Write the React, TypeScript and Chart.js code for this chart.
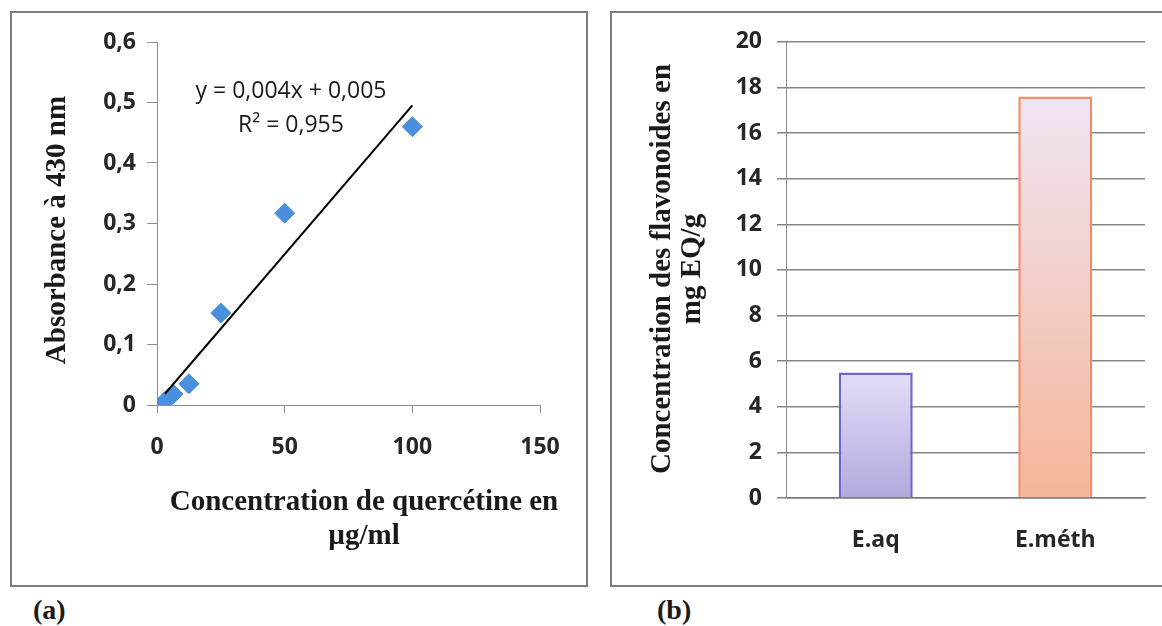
import React, { useEffect, useRef } from "react";
import { Chart, registerables } from "chart.js";

Chart.register(...registerables);

// ---- Data (a): calibration curve ----
const concentrations = [3.125, 6.25, 12.5, 25, 50, 100];
const absorbances = [0.006, 0.018, 0.035, 0.152, 0.317, 0.46];
const xTicksA = [0, 50, 100, 150];
const yTicksA = [0, 0.1, 0.2, 0.3, 0.4, 0.5, 0.6];
const equationText = ["y = 0,004x + 0,005", "R² = 0,955"];
const xTitleA = ["Concentration de quercétine en", "µg/ml"];
const yTitleA = "Absorbance à 430 nm";

// ---- Data (b): flavonoid content ----
const extractCategories = ["E.aq", "E.méth"];
const flavonoidValues = [5.5, 17.6];
const yTicksB = [0, 2, 4, 6, 8, 10, 12, 14, 16, 18, 20];
const yTitleB = ["Concentration des flavonoides en", "mg EQ/g"];

const barFills = [
  ["#e3ddf7", "#b1aadf"],
  ["#f0e5f3", "#f5b599"],
];
const barBorders = ["#6b65cc", "#f48a66"];

const axisGray = "#8f8f8f";
const tickColor = "#262626";
const tickFont = { family: "'Open Sans'", size: 23, weight: "bold" as const };
const serifTitle = "bold 29px 'Liberation Serif'";

type TextItem = { lines: string[]; x: number; y: number; font: string; rotate?: boolean; lh: number };

function textPlugin(id: string, items: TextItem[]) {
  return {
    id,
    afterDraw(chart: any) {
      const ctx = chart.ctx as CanvasRenderingContext2D;
      ctx.save();
      ctx.fillStyle = "#1a1a1a";
      ctx.textAlign = "center";
      ctx.textBaseline = "middle";
      for (const it of items) {
        ctx.save();
        ctx.font = it.font;
        ctx.translate(it.x, it.y);
        if (it.rotate) ctx.rotate(-Math.PI / 2);
        it.lines.forEach((l, i) => ctx.fillText(l, 0, i * it.lh));
        ctx.restore();
      }
      ctx.restore();
    },
  };
}

function regression(xs: number[], ys: number[]) {
  const n = xs.length;
  const mx = xs.reduce((a, b) => a + b, 0) / n;
  const my = ys.reduce((a, b) => a + b, 0) / n;
  let sxy = 0, sxx = 0;
  for (let i = 0; i < n; i++) {
    sxy += (xs[i] - mx) * (ys[i] - my);
    sxx += (xs[i] - mx) ** 2;
  }
  const slope = sxy / sxx;
  return { slope, intercept: my - slope * mx };
}

const fmtComma = (v: number) => (v === 0 ? "0" : v.toFixed(1).replace(".", ","));

export default function App() {
  const refA = useRef<HTMLCanvasElement>(null);
  const refB = useRef<HTMLCanvasElement>(null);

  useEffect(() => {
    const { slope, intercept } = regression(concentrations, absorbances);
    const xMin = Math.min(...concentrations);
    const xMax = Math.max(...concentrations);
    const trend = [
      { x: xMin, y: intercept + slope * xMin },
      { x: xMax, y: intercept + slope * xMax },
    ];

    const chartA = new Chart(refA.current!, {
      type: "scatter",
      data: {
        datasets: [
          {
            type: "line",
            data: trend,
            borderColor: "#000",
            borderWidth: 2,
            pointRadius: 0,
            order: 0,
          } as any,
          {
            data: concentrations.map((x, i) => ({ x, y: absorbances[i] })),
            pointStyle: "rectRot",
            pointRadius: 10,
            backgroundColor: "#4a8fdc",
            borderColor: "#4a8fdc",
            borderWidth: 1,
            order: 1,
          },
        ],
      },
      options: {
        responsive: false,
        animation: false,
        layout: { padding: { left: 0, top: 29, right: 46, bottom: 0 } },
        plugins: { legend: { display: false }, tooltip: { enabled: false } },
        scales: {
          x: {
            type: "linear",
            min: 0,
            max: 150,
            afterBuildTicks: (s: any) => {
              s.ticks = xTicksA.map((v) => ({ value: v }));
            },
            ticks: { font: tickFont, color: tickColor, padding: 21, maxRotation: 0 },
            grid: { drawOnChartArea: false, drawTicks: true, tickLength: 8, color: axisGray },
            border: { display: true, color: axisGray, width: 1 },
            afterFit: (s: any) => {
              s.height = 179;
            },
          },
          y: {
            type: "linear",
            min: 0,
            max: 0.6,
            afterBuildTicks: (s: any) => {
              s.ticks = yTicksA.map((v) => ({ value: v }));
            },
            ticks: {
              font: tickFont,
              color: tickColor,
              padding: 11,
              callback: (v: any) => fmtComma(Number(v)),
            },
            grid: { drawOnChartArea: false, drawTicks: true, tickLength: 10, color: axisGray },
            border: { display: true, color: axisGray, width: 1 },
            afterFit: (s: any) => {
              s.width = 145;
            },
          },
        },
      },
      plugins: [
        textPlugin("textsA", [
          { lines: [yTitleA], x: 45.5, y: 217, font: serifTitle, rotate: true, lh: 0 },
          { lines: xTitleA, x: 352, y: 490, font: serifTitle, lh: 34 },
          { lines: equationText, x: 279, y: 78, font: "500 23px 'Open Sans'", lh: 34 },
        ]),
      ],
    });

    const chartB = new Chart(refB.current!, {
      type: "bar",
      data: {
        labels: extractCategories,
        datasets: [
          {
            data: flavonoidValues,
            backgroundColor: (ctx: any) => {
              const chart = ctx.chart;
              const i = ctx.dataIndex;
              if (!chart.chartArea || i == null || !chart.scales.y) return barFills[0][0];
              const top = chart.scales.y.getPixelForValue(flavonoidValues[i]);
              const bottom = chart.scales.y.getPixelForValue(0);
              const g = chart.ctx.createLinearGradient(0, top, 0, bottom);
              g.addColorStop(0, barFills[i][0]);
              g.addColorStop(1, barFills[i][1]);
              return g;
            },
            borderColor: barBorders,
            borderWidth: 2.5,
            categoryPercentage: 1,
            barPercentage: 0.412,
          },
        ],
      },
      options: {
        responsive: false,
        animation: false,
        layout: { padding: { left: 0, top: 27, right: 17, bottom: 0 } },
        plugins: { legend: { display: false }, tooltip: { enabled: false } },
        scales: {
          x: {
            ticks: { font: tickFont, color: tickColor, padding: 29, maxRotation: 0 },
            grid: { display: false, drawTicks: false },
            border: { display: true, color: "#7a7a7a", width: 1.5 },
            afterFit: (s: any) => {
              s.height = 86;
            },
          },
          y: {
            min: 0,
            max: 20,
            afterBuildTicks: (s: any) => {
              s.ticks = yTicksB.map((v) => ({ value: v }));
            },
            ticks: { font: tickFont, color: tickColor, padding: 15 },
            grid: { color: "#858585", lineWidth: 1.5, drawTicks: true, tickLength: 9 },
            border: { display: true, color: axisGray, width: 1 },
            afterFit: (s: any) => {
              s.width = 174;
            },
          },
        },
      },
      plugins: [
        textPlugin("textsB", [
          { lines: yTitleB, x: 51, y: 256, font: serifTitle, rotate: true, lh: 30 },
        ]),
      ],
    });

    return () => {
      chartA.destroy();
      chartB.destroy();
    };
  }, []);

  const labelStyle: React.CSSProperties = {
    position: "absolute",
    top: 595,
    font: "bold 28px 'Liberation Serif'",
    lineHeight: "30px",
    color: "#1a1a1a",
  };

  return (
    <div
      style={{
        position: "absolute",
        left: 0,
        top: 0,
        width: 1162,
        height: 626,
        overflow: "hidden",
        background: "#fff",
      }}
    >
      <div
        style={{
          position: "absolute",
          left: 10,
          top: 11,
          width: 578,
          height: 576,
          border: "2px solid #7d7d7d",
          boxSizing: "border-box",
        }}
      />
      <canvas
        ref={refA}
        width={574}
        height={571}
        style={{ position: "absolute", left: 12, top: 13, width: 574, height: 571 }}
      />
      <div
        style={{
          position: "absolute",
          left: 610,
          top: 11,
          width: 600,
          height: 576,
          border: "2px solid #7d7d7d",
          boxSizing: "border-box",
        }}
      />
      <canvas
        ref={refB}
        width={550}
        height={571}
        style={{ position: "absolute", left: 612, top: 13, width: 550, height: 571 }}
      />
      <div style={{ ...labelStyle, left: 33 }}>(a)</div>
      <div style={{ ...labelStyle, left: 657 }}>(b)</div>
    </div>
  );
}
